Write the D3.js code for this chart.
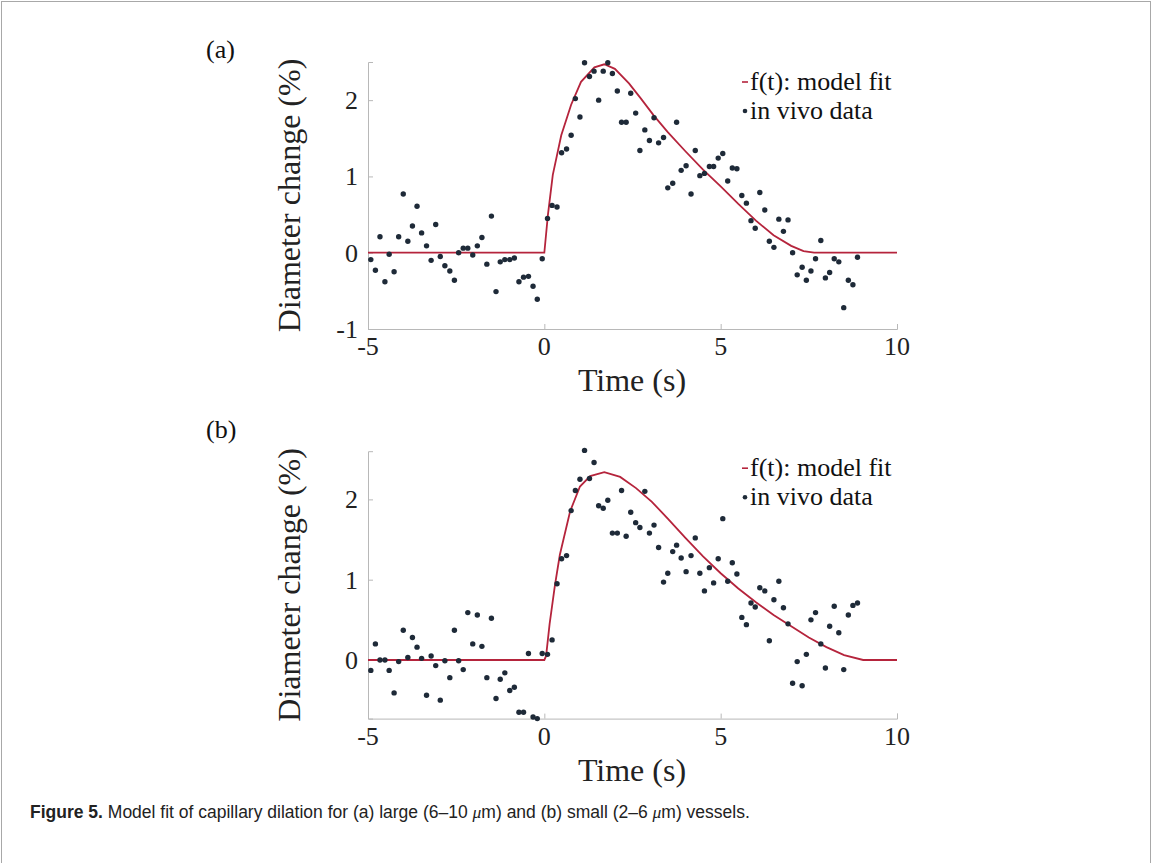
<!DOCTYPE html>
<html>
<head>
<meta charset="utf-8">
<script src="https://cdn.jsdelivr.net/npm/d3@7"></script>
<style>
  body { margin: 0; background: #fff; }
  svg { display: block; }
</style>
</head>
<body>
<svg id="fig" width="1153" height="863"></svg>
<script>
// sample times (s), same for both panels
const time = [-4.92,-4.79,-4.66,-4.52,-4.40,-4.26,-4.13,-4.00,-3.87,-3.74,-3.61,-3.48,-3.34,-3.21,-3.08,-2.95,-2.82,-2.68,-2.55,-2.43,-2.30,-2.17,-2.03,-1.90,-1.77,-1.63,-1.50,-1.37,-1.25,-1.12,-0.98,-0.85,-0.72,-0.59,-0.45,-0.32,-0.20,-0.06,
  0.09,0.22,0.36,0.49,0.63,0.76,0.88,1.01,1.14,1.28,1.41,1.54,1.67,1.80,1.93,2.07,2.19,2.32,2.45,2.59,2.71,2.85,2.98,3.11,3.24,3.38,3.50,3.64,3.75,3.88,4.02,4.16,4.28,4.41,4.54,4.68,4.80,4.93,
  5.06,5.20,5.33,5.46,5.60,5.73,5.86,5.98,6.11,6.25,6.38,6.51,6.65,6.78,6.91,7.04,7.17,7.31,7.43,7.56,7.69,7.84,7.97,8.09,8.22,8.35,8.49,8.62,8.75,8.88];

// (a) large vessels, in vivo diameter change (%)
const vivoA = [-0.09,-0.23,0.21,-0.38,-0.02,-0.25,0.21,0.77,0.15,0.35,0.61,0.26,0.09,-0.10,0.37,-0.05,-0.17,-0.24,-0.36,0.00,0.06,0.06,-0.03,0.09,0.20,-0.15,0.48,-0.51,-0.12,-0.09,-0.09,-0.07,-0.38,-0.32,-0.31,-0.44,-0.61,-0.08,
  0.45,0.62,0.60,1.31,1.36,1.54,2.02,1.78,2.49,2.31,2.38,2.00,2.38,2.49,2.35,2.12,1.71,1.71,2.09,1.83,1.34,1.61,1.47,1.77,1.44,1.51,0.85,0.91,1.71,1.08,1.14,0.77,1.34,1.01,1.04,1.13,1.13,1.24,
  1.30,0.94,1.11,1.10,0.75,0.65,0.42,0.32,0.79,0.56,0.15,0.07,0.44,0.28,0.43,0.00,-0.29,-0.19,-0.36,-0.24,-0.08,0.16,-0.33,-0.26,-0.08,-0.12,-0.72,-0.36,-0.42,-0.06];

// (b) small vessels
const vivoB = [-0.13,0.20,0.00,0.00,-0.13,-0.41,-0.02,0.37,0.03,0.28,0.16,0.02,-0.44,0.05,-0.07,-0.50,-0.01,-0.22,0.37,-0.01,-0.12,0.59,0.20,0.56,0.17,-0.22,0.52,-0.48,-0.24,-0.16,-0.38,-0.34,-0.65,-0.65,0.08,-0.71,-0.73,0.08,
  0.07,0.25,0.95,1.26,1.30,1.86,2.11,2.25,2.61,2.26,2.46,1.92,1.89,1.99,1.58,1.58,2.11,1.54,1.84,1.71,1.65,2.10,1.58,1.68,1.40,0.97,1.08,1.35,1.43,1.27,1.10,1.30,1.52,1.08,0.86,1.15,0.96,1.26,
  1.76,0.98,1.21,1.07,0.53,0.44,0.71,0.66,0.90,0.86,0.24,0.75,0.98,0.65,0.45,-0.29,-0.02,-0.32,0.07,0.50,0.59,0.20,-0.10,0.42,0.67,0.34,-0.12,0.56,0.68,0.71];

// model fit f(t)
const fitTimeA = [-5,0,0.10,0.24,0.48,0.76,1.04,1.42,1.70,2.00,2.40,2.74,3.10,3.50,4.00,4.50,5.00,5.50,6.00,6.50,7.00,7.35,7.65,10];
const fitA     = [0,0,0.49,1.02,1.54,1.94,2.24,2.43,2.47,2.41,2.22,2.02,1.80,1.58,1.33,1.09,0.87,0.64,0.42,0.23,0.09,0.02,0,0];
const fitTimeB = [-5,0,0.05,0.15,0.30,0.44,0.73,1.01,1.30,1.70,2.15,2.60,3.05,3.50,4.00,4.50,5.00,5.50,6.00,6.50,7.00,7.50,8.00,8.50,9.04,10];
const fitB     = [0,0,0.05,0.45,0.93,1.31,1.85,2.16,2.29,2.34,2.28,2.14,1.97,1.76,1.52,1.29,1.08,0.89,0.72,0.56,0.42,0.28,0.16,0.06,0,0];

const xTicks = [-5, 0, 5, 10];
const yTicksA = [-1, 0, 1, 2];
const yTicksB = [0, 1, 2];

const serif = '"Liberation Serif", "Times New Roman", serif';
const red = "#b5243c", dotColor = "#1e2a38", axisColor = "#b8b8b8";

const svg = d3.select("#fig");

// page frame
svg.append("rect")
  .attr("x", 1.5).attr("y", 1.5).attr("width", 1149).attr("height", 900)
  .attr("fill", "none").attr("stroke", "#a8a8a8").attr("stroke-width", 1);

function panel(opts) {
  const x = d3.scaleLinear().domain([-5, 10]).range([368, 897]);
  const y = d3.scaleLinear().domain(opts.yDomain).range(opts.yRange);
  const g = svg.append("g");

  // axes (ticks point inward, box off)
  const xAxis = g.append("g")
    .attr("transform", `translate(0,${opts.yRange[0]})`)
    .call(d3.axisTop(x).tickValues(xTicks).tickSize(5).tickFormat(""));
  const yAxis = g.append("g")
    .attr("transform", `translate(${x.range()[0]},0)`)
    .call(d3.axisRight(y).tickValues(opts.yTicks).tickSize(5).tickFormat(""));
  [xAxis, yAxis].forEach(a => {
    a.selectAll("path, line").attr("stroke", axisColor);
  });

  // tick labels
  g.selectAll(".xl").data(xTicks).enter().append("text")
    .attr("x", d => x(d)).attr("y", opts.yRange[0] + 26)
    .attr("text-anchor", "middle")
    .style("font-family", serif).style("font-size", "26px").attr("fill", "#222")
    .text(d => d < 0 ? "-" + Math.abs(d) : d);
  g.selectAll(".yl").data(opts.yTicks).enter().append("text")
    .attr("x", 358).attr("y", d => y(d)).attr("dy", "0.34em")
    .attr("text-anchor", "end")
    .style("font-family", serif).style("font-size", "26px").attr("fill", "#222")
    .text(d => d < 0 ? "-" + Math.abs(d) : d);

  // axis titles
  g.append("text")
    .attr("x", 632).attr("y", opts.yRange[0] + 62)
    .attr("text-anchor", "middle")
    .style("font-family", serif).style("font-size", "32px").attr("fill", "#222")
    .text("Time (s)");
  const cy = (opts.yRange[0] + opts.yRange[1]) / 2;
  g.append("text")
    .attr("transform", `translate(300,${cy}) rotate(-90)`)
    .attr("text-anchor", "middle")
    .style("font-family", serif).style("font-size", "32px").attr("fill", "#222")
    .text("Diameter change (%)");

  // panel letter
  g.append("text")
    .attr("x", 206).attr("y", opts.letterY)
    .style("font-family", serif).style("font-size", "26px").attr("fill", "#111")
    .text(opts.letter);

  // model fit
  const line = d3.line().x(d => x(d[0])).y(d => y(d[1]));
  g.append("path")
    .datum(d3.zip(opts.fitT, opts.fit))
    .attr("d", line)
    .attr("fill", "none").attr("stroke", red).attr("stroke-width", 1.8);

  // in vivo data
  g.selectAll(".dot").data(d3.zip(time, opts.vivo)).enter().append("circle")
    .attr("cx", d => x(d[0])).attr("cy", d => y(d[1])).attr("r", 2.7)
    .attr("fill", dotColor);

  // legend
  const ly = opts.yRange[1] + opts.legendDy;
  g.append("line")
    .attr("x1", 742).attr("x2", 748).attr("y1", ly - 8).attr("y2", ly - 8)
    .attr("stroke", red).attr("stroke-width", 1.6);
  g.append("text")
    .attr("x", 750).attr("y", ly)
    .style("font-family", serif).style("font-size", "26px").attr("fill", "#111")
    .text("f(t): model fit");
  g.append("circle")
    .attr("cx", 745).attr("cy", ly + 21).attr("r", 2.3).attr("fill", dotColor);
  g.append("text")
    .attr("x", 750).attr("y", ly + 29)
    .style("font-family", serif).style("font-size", "26px").attr("fill", "#111")
    .text("in vivo data");
}

panel({ yDomain: [-1, 2.5], yRange: [329, 62], yTicks: yTicksA, vivo: vivoA,
        fitT: fitTimeA, fit: fitA, letter: "(a)", letterY: 58, legendDy: 28 });
panel({ yDomain: [-0.73, 2.6], yRange: [718.6, 451.2], yTicks: yTicksB, vivo: vivoB,
        fitT: fitTimeB, fit: fitB, letter: "(b)", letterY: 438, legendDy: 25 });

// caption
const cap = svg.append("text")
  .attr("x", 30).attr("y", 818)
  .style("font-family", '"Liberation Sans", Arial, sans-serif').style("font-size", "17.5px")
  .attr("fill", "#222");
cap.append("tspan").style("font-weight", "bold").text("Figure 5.");
cap.append("tspan").text(" Model fit of capillary dilation for (a) large (6–10 ");
cap.append("tspan").style("font-style", "italic").style("font-family", serif).text("μ");
cap.append("tspan").text("m) and (b) small (2–6 ");
cap.append("tspan").style("font-style", "italic").style("font-family", serif).text("μ");
cap.append("tspan").text("m) vessels.");
</script>
</body>
</html>
